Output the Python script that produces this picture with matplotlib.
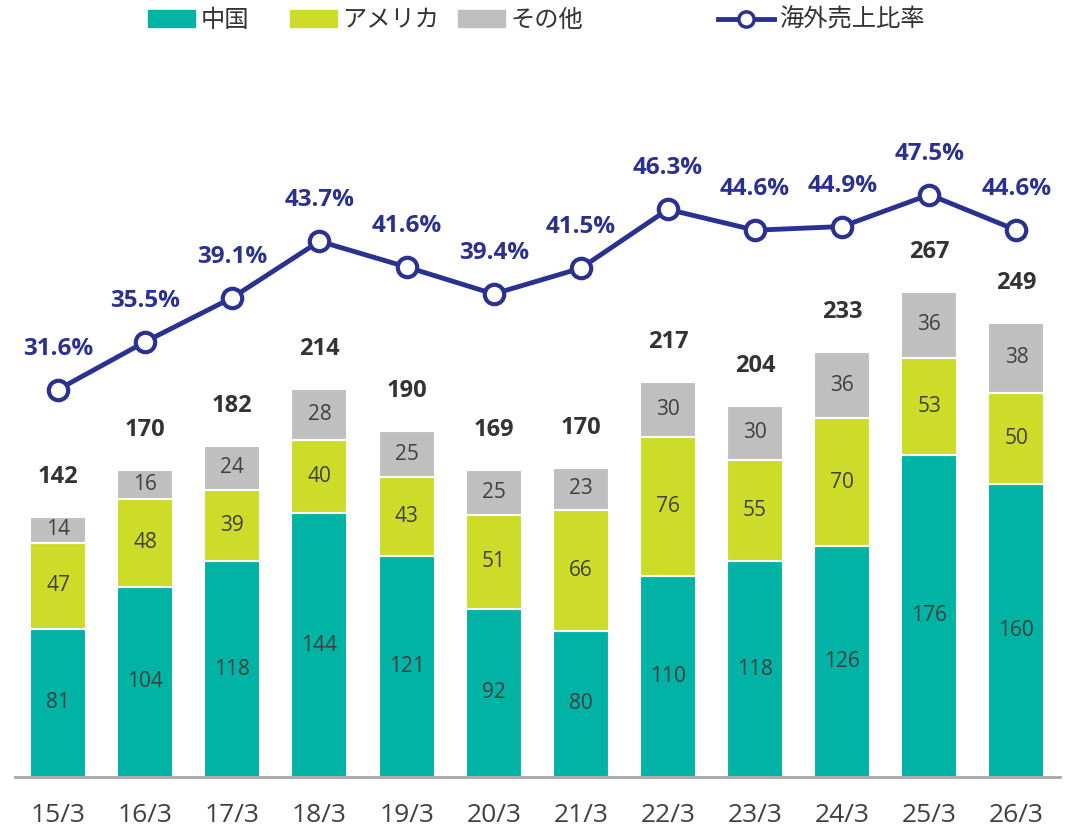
import numpy as np
import matplotlib
matplotlib.use("Agg")
import matplotlib.pyplot as plt
from matplotlib.lines import Line2D
from matplotlib.patches import Patch

plt.rcParams['font.family'] = ['Open Sans', 'Noto Sans CJK JP', 'DejaVu Sans']

# data
years = ["15/3", "16/3", "17/3", "18/3", "19/3", "20/3", "21/3", "22/3", "23/3", "24/3", "25/3", "26/3"]
china = [81, 104, 118, 144, 121, 92, 80, 110, 118, 126, 176, 160]
america = [47, 48, 39, 40, 43, 51, 66, 76, 55, 70, 53, 50]
other = [14, 16, 24, 28, 25, 25, 23, 30, 30, 36, 36, 38]
totals = [142, 170, 182, 214, 190, 169, 170, 217, 204, 233, 267, 249]
overseas_ratio = [31.6, 35.5, 39.1, 43.7, 41.6, 39.4, 41.5, 46.3, 44.6, 44.9, 47.5, 44.6]

c_china = "#00b3a4"
c_america = "#cddc29"
c_other = "#bfbfbf"
c_line = "#2b3190"
c_text = "#404040"

W, H = 1074, 832
fig = plt.figure(figsize=(W / 100, H / 100), dpi=100)
# axes placed in pixels: left 14.5, right 1060, baseline 777, top 60
ax = fig.add_axes([14.5 / W, 1 - 777 / H, (1060 - 14.5) / W, (777 - 60) / H])
ax2 = ax.twinx()

x = np.arange(len(years))
width = 0.643
china = np.array(china)
america = np.array(america)
other = np.array(other)

kw = dict(width=width, edgecolor="white", linewidth=1.5, zorder=2)
ax.bar(x, china, color=c_china, **kw)
ax.bar(x, america, bottom=china, color=c_america, **kw)
ax.bar(x, other, bottom=china + america, color=c_other, **kw)

for i in range(len(x)):
    ax.text(x[i], china[i] / 2, str(china[i]), ha="center", va="center",
            fontsize=15, color=c_text)
    ax.text(x[i], china[i] + america[i] / 2, str(america[i]), ha="center", va="center",
            fontsize=15, color=c_text)
    ax.text(x[i], china[i] + america[i] + other[i] / 2, str(other[i]), ha="center",
            va="center", fontsize=15, color=c_text)
    top = china[i] + america[i] + other[i]
    ax.annotate(str(totals[i]), (x[i], top), xytext=(0, 40), textcoords="offset pixels",
                ha="center", va="center", fontsize=17, fontweight="bold", color="#333333")

ax2.plot(x, overseas_ratio, color=c_line, lw=3.5, marker="o", markersize=14,
         markerfacecolor="white", markeredgecolor=c_line, markeredgewidth=3, zorder=5)
for i in range(len(x)):
    ax2.annotate(f"{overseas_ratio[i]:.1f}%", (x[i], overseas_ratio[i]), xytext=(0, 41),
                 textcoords="offset pixels", ha="center", va="center", fontsize=17.5,
                 fontweight="bold", color=c_line)

ax.set_xlim(-0.5, 11.5)
ax.set_ylim(0, 717 / 1.83)
ax2.set_ylim(0, 717 / 12.26)

for a in (ax, ax2):
    for s in ("top", "right", "left"):
        a.spines[s].set_visible(False)
    a.set_yticks([])
ax2.spines["bottom"].set_visible(False)
ax.spines["bottom"].set_color("#a6a6a6")
ax.spines["bottom"].set_linewidth(2)

ax.set_xticks(x)
ax.set_xticklabels(years, fontsize=19, color=c_text)
ax.tick_params(axis="x", length=0, pad=19)

# legend entries, each placed on its own
line_handle = Line2D([], [], color=c_line, lw=3.5, marker="o", markersize=11,
                     markerfacecolor="white", markeredgecolor=c_line, markeredgewidth=2.5)
entries = [
    (Patch(color=c_china), "中国", 148, 1.95),
    (Patch(color=c_america), "アメリカ", 290, 1.95),
    (Patch(color=c_other), "その他", 458, 1.95),
    (line_handle, "海外売上比率", 718, 2.3),
]
for handle, label, xpos, hl in entries:
    leg = fig.legend([handle], [label], loc="center left",
                     bbox_to_anchor=(xpos / W, 1 - 21 / H), frameon=False,
                     fontsize=17.5, handlelength=hl, handleheight=0.65,
                     handletextpad=0.2, borderpad=0, borderaxespad=0)
    for t in leg.get_texts():
        t.set_color("#333333")

fig.savefig("out.png", dpi=100)
